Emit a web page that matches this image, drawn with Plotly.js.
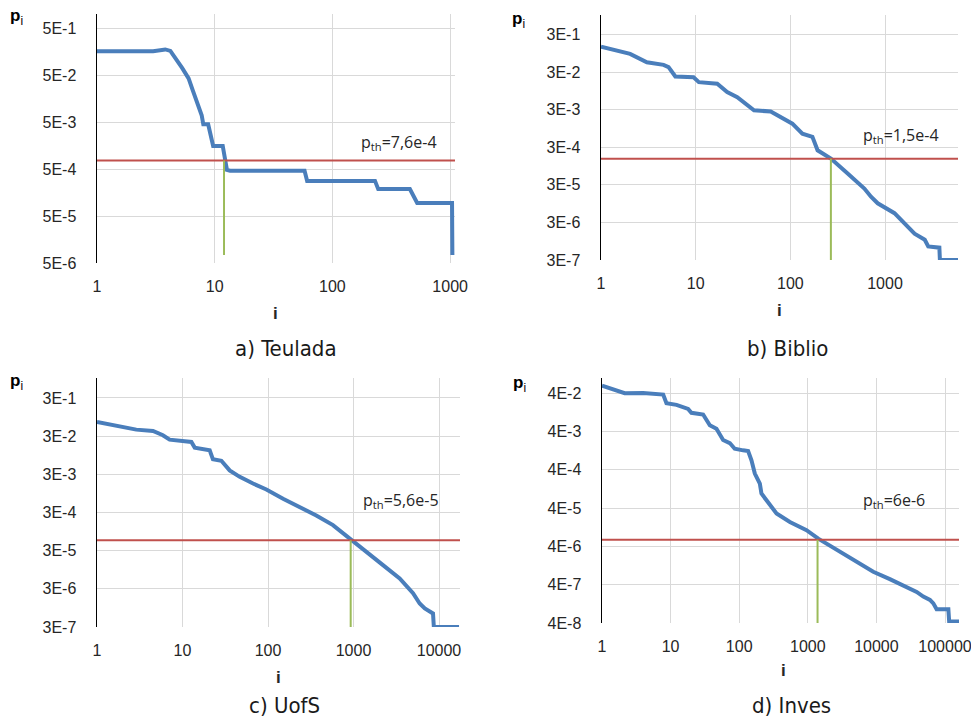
<!DOCTYPE html>
<html><head><meta charset="utf-8">
<script src="https://cdn.plot.ly/plotly-3.0.1.min.js"></script>
<style>html,body{margin:0;padding:0;background:#fff}#chart{width:971px;height:719px}</style>
</head><body><div id="chart"></div>
<script>
// ---- a) Teulada ----
const aI = [1, 3, 3.8, 4.2, 5.3, 6.0, 6.5, 7.2, 7.75, 8.0, 8.8, 9.7, 11.7, 12.7, 13.5, 58, 61, 230, 245, 455, 525, 1038, 1045];
const aP = [0.162, 0.162, 0.176, 0.164, 0.0705, 0.0425, 0.024, 0.0126, 0.007, 0.0045, 0.0045, 0.00155, 0.00155, 4.8e-4, 4.6e-4, 4.6e-4, 2.8e-4, 2.8e-4, 1.87e-4, 1.87e-4, 9.5e-5, 9.5e-5, 7.4e-6];
const aThreshold = 7.6e-4, aIth = 12, aGreenBottom = 7.4e-6;
const aXRange = [1, 1100], aYRange = [5e-6, 1];
const aYTicks = [5e-6, 5e-5, 5e-4, 5e-3, 5e-2, 5e-1];
const aYText = ['5E-6', '5E-5', '5E-4', '5E-3', '5E-2', '5E-1'];
const aXTicks = [1, 10, 100, 1000];
const aXText = ['1', '10', '100', '1000'];
const aLabel = 'p<sub>th</sub>=7,6e-4', aCaption = 'a) Teulada';

// ---- b) Biblio ----
const bI = [1, 2.03, 3.05, 4.58, 5.17, 6.1, 9.5, 10.8, 16.9, 21.5, 27.5, 41.3, 62, 85.8, 105, 134, 171, 194, 268, 403, 605, 711, 837, 1258, 2050, 2630, 2860, 3750, 3800, 5900];
const bP = [0.144, 0.092, 0.055, 0.047, 0.041, 0.023, 0.022, 0.0163, 0.0148, 0.0089, 0.0065, 0.0029, 0.0027, 0.00174, 0.00128, 6.9e-4, 5.7e-4, 2.5e-4, 1.5e-4, 6.0e-5, 2.4e-5, 1.45e-5, 9.7e-6, 5.3e-6, 1.5e-6, 1.04e-6, 6.9e-7, 6.4e-7, 3e-7, 3e-7];
const bThreshold = 1.5e-4, bIth = 268, bGreenBottom = 3e-7;
const bXRange = [1, 5900], bYRange = [3e-7, 1];
const bYTicks = [3e-7, 3e-6, 3e-5, 3e-4, 3e-3, 3e-2, 3e-1];
const bYText = ['3E-7', '3E-6', '3E-5', '3E-4', '3E-3', '3E-2', '3E-1'];
const bXTicks = [1, 10, 100, 1000];
const bXText = ['1', '10', '100', '1000'];
const bLabel = 'p<sub>th</sub>=1,5e-4', bCaption = 'b) Biblio';

// ---- c) UofS ----
const cI = [1, 2.88, 4.52, 5.9, 7.07, 12.7, 13.9, 20.8, 22.7, 28.5, 35.6, 46.7, 66.8, 95.7, 150, 234, 367, 575, 944, 1414, 2213, 3467, 4966, 5943, 6820, 8510, 8700, 17150];
const cP = [0.0707, 0.0444, 0.041, 0.0317, 0.0243, 0.0211, 0.015, 0.0128, 0.0074, 0.0068, 0.0038, 0.00257, 0.00172, 0.0012, 6.9e-4, 4.2e-4, 2.5e-4, 1.4e-4, 5.9e-5, 2.8e-5, 1.25e-5, 5.6e-6, 2.3e-6, 1.24e-6, 9.2e-7, 6.8e-7, 3e-7, 3e-7];
const cThreshold = 5.6e-5, cIth = 927, cGreenBottom = 3e-7;
const cXRange = [1, 17600], cYRange = [3e-7, 1];
const cYTicks = [3e-7, 3e-6, 3e-5, 3e-4, 3e-3, 3e-2, 3e-1];
const cYText = ['3E-7', '3E-6', '3E-5', '3E-4', '3E-3', '3E-2', '3E-1'];
const cXTicks = [1, 10, 100, 1000, 10000];
const cXText = ['1', '10', '100', '1000', '10000'];
const cLabel = 'p<sub>th</sub>=5,6e-5', cCaption = 'c) UofS';

// ---- d) Inves ----
const dI = [1, 1.45, 2.14, 3.97, 7.34, 7.8, 8.7, 12.2, 18, 20.1, 29.8, 37.3, 46.6, 58.3, 73, 86, 114, 135, 151, 169, 200, 211, 250, 350, 548, 958, 1420, 2940, 5140, 9000, 15700, 27500, 38600, 48300, 60400, 67600, 75500, 112000, 115000, 160000];
const dP = [0.063, 0.05, 0.04, 0.0408, 0.0362, 0.037, 0.022, 0.0199, 0.0156, 0.0123, 0.0111, 0.0058, 0.0047, 0.0024, 0.002, 0.00142, 0.00129, 0.00124, 7.1e-4, 3.2e-4, 1.74e-4, 9.6e-5, 6.4e-5, 2.9e-5, 1.74e-5, 1.06e-5, 6.4e-6, 2.9e-6, 1.6e-6, 8.7e-7, 5.6e-7, 3.4e-7, 2.6e-7, 1.96e-7, 1.6e-7, 1.3e-7, 9.1e-8, 9.1e-8, 4.4e-8, 4.4e-8];
const dThreshold = 6e-6, dIth = 1387, dGreenBottom = 4e-8;
const dXRange = [1, 160000], dYRange = [4e-8, 0.1];
const dYTicks = [4e-8, 4e-7, 4e-6, 4e-5, 4e-4, 4e-3, 4e-2];
const dYText = ['4E-8', '4E-7', '4E-6', '4E-5', '4E-4', '4E-3', '4E-2'];
const dXTicks = [1, 10, 100, 1000, 10000, 100000];
const dXText = ['1', '10', '100', '1000', '10000', '100000'];
const dLabel = 'p<sub>th</sub>=6e-6', dCaption = 'd) Inves';

const W = 971, H = 719;
const panels = [
  {i: aI, p: aP, th: aThreshold, ith: aIth, gb: aGreenBottom, xr: aXRange, yr: aYRange, yt: aYTicks, ytx: aYText, xt: aXTicks, xtx: aXText, lab: aLabel, cap: aCaption,
   box: [97, 455, 14, 263], labPos: [399, 142], capPos: [286, 348], piPos: [16, 17], iPos: [275, 313]},
  {i: bI, p: bP, th: bThreshold, ith: bIth, gb: bGreenBottom, xr: bXRange, yr: bYRange, yt: bYTicks, ytx: bYText, xt: bXTicks, xtx: bXText, lab: bLabel, cap: bCaption,
   box: [601, 958, 15, 260], labPos: [901, 135], capPos: [787, 348], piPos: [518, 20], iPos: [779, 310]},
  {i: cI, p: cP, th: cThreshold, ith: cIth, gb: cGreenBottom, xr: cXRange, yr: cYRange, yt: cYTicks, ytx: cYText, xt: cXTicks, xtx: cXText, lab: cLabel, cap: cCaption,
   box: [97, 460, 378, 627], labPos: [401, 500], capPos: [284, 705], piPos: [16, 382], iPos: [278, 677]},
  {i: dI, p: dP, th: dThreshold, ith: dIth, gb: dGreenBottom, xr: dXRange, yr: dYRange, yt: dYTicks, ytx: dYText, xt: dXTicks, xtx: dXText, lab: dLabel, cap: dCaption,
   box: [602, 959, 378, 623], labPos: [894, 500], capPos: [791, 705], piPos: [519, 384], iPos: [783, 670]}
];

const traces = [];
const layout = {
  width: W, height: H, margin: {l: 0, r: 0, t: 0, b: 0},
  paper_bgcolor: '#fff', plot_bgcolor: '#fff', showlegend: false,
  annotations: []
};
const tickFont = {family: 'Liberation Sans, Arial, sans-serif', size: 16, color: '#262626'};
const capFont = {family: 'DejaVu Sans Condensed, DejaVu Sans, sans-serif', size: 22, color: '#1a1a1a'};
const labFont = {family: 'Open Sans, sans-serif', size: 16, color: '#262626'};

panels.forEach((P, k) => {
  const n = k + 1;
  const xa = n === 1 ? 'x' : 'x' + n, ya = n === 1 ? 'y' : 'y' + n;
  const xk = n === 1 ? 'xaxis' : 'xaxis' + n, yk = n === 1 ? 'yaxis' : 'yaxis' + n;
  traces.push({x: P.i, y: P.p, xaxis: xa, yaxis: ya, mode: 'lines', line: {color: '#4a7ebb', width: 4}, hoverinfo: 'skip'});
  traces.push({x: P.xr, y: [P.th, P.th], xaxis: xa, yaxis: ya, mode: 'lines', line: {color: '#c0504d', width: 2}, hoverinfo: 'skip'});
  traces.push({x: [P.ith, P.ith], y: [P.gb, P.th], xaxis: xa, yaxis: ya, mode: 'lines', line: {color: '#9bbb59', width: 2}, hoverinfo: 'skip'});
  const [x0, x1, y0, y1] = P.box;
  layout[xk] = {
    type: 'log', range: [Math.log10(P.xr[0]), Math.log10(P.xr[1])], domain: [x0 / W, x1 / W],
    anchor: ya, tickvals: P.xt, ticktext: P.xtx, showgrid: true, gridcolor: '#d9d9d9', gridwidth: 1,
    showline: false, zeroline: false, ticks: '', tickfont: tickFont, ticklabelstandoff: 12,
    ticklabeloverflow: 'allow', fixedrange: true
  };
  layout[yk] = {
    type: 'log', range: [Math.log10(P.yr[0]), Math.log10(P.yr[1])], domain: [1 - y1 / H, 1 - y0 / H],
    anchor: xa, tickvals: P.yt, ticktext: P.ytx, showgrid: true, gridcolor: '#d9d9d9', gridwidth: 1,
    showline: true, linecolor: '#000', linewidth: 1.5, zeroline: false, ticks: '', tickfont: tickFont, ticklabelstandoff: 16,
    ticklabeloverflow: 'allow', fixedrange: true
  };
  layout.annotations.push({xref: 'paper', yref: 'paper', x: P.labPos[0] / W, y: 1 - P.labPos[1] / H, text: P.lab, showarrow: false, xanchor: 'center', yanchor: 'middle', font: labFont});
  layout.annotations.push({xref: 'paper', yref: 'paper', x: P.capPos[0] / W, y: 1 - P.capPos[1] / H, text: P.cap, showarrow: false, xanchor: 'center', yanchor: 'middle', font: capFont});
  layout.annotations.push({xref: 'paper', yref: 'paper', x: P.piPos[0] / W, y: 1 - P.piPos[1] / H, text: '<b>p</b><sub>i</sub>', showarrow: false, xanchor: 'center', yanchor: 'middle', font: {family: 'Liberation Sans, Arial, sans-serif', size: 17, color: '#000'}});
  layout.annotations.push({xref: 'paper', yref: 'paper', x: P.iPos[0] / W, y: 1 - P.iPos[1] / H, text: '<b>i</b>', showarrow: false, xanchor: 'center', yanchor: 'middle', font: {family: 'Liberation Sans, Arial, sans-serif', size: 17, color: '#262626'}});
});

Plotly.newPlot('chart', traces, layout, {displayModeBar: false, staticPlot: true});
</script>
</body></html>
